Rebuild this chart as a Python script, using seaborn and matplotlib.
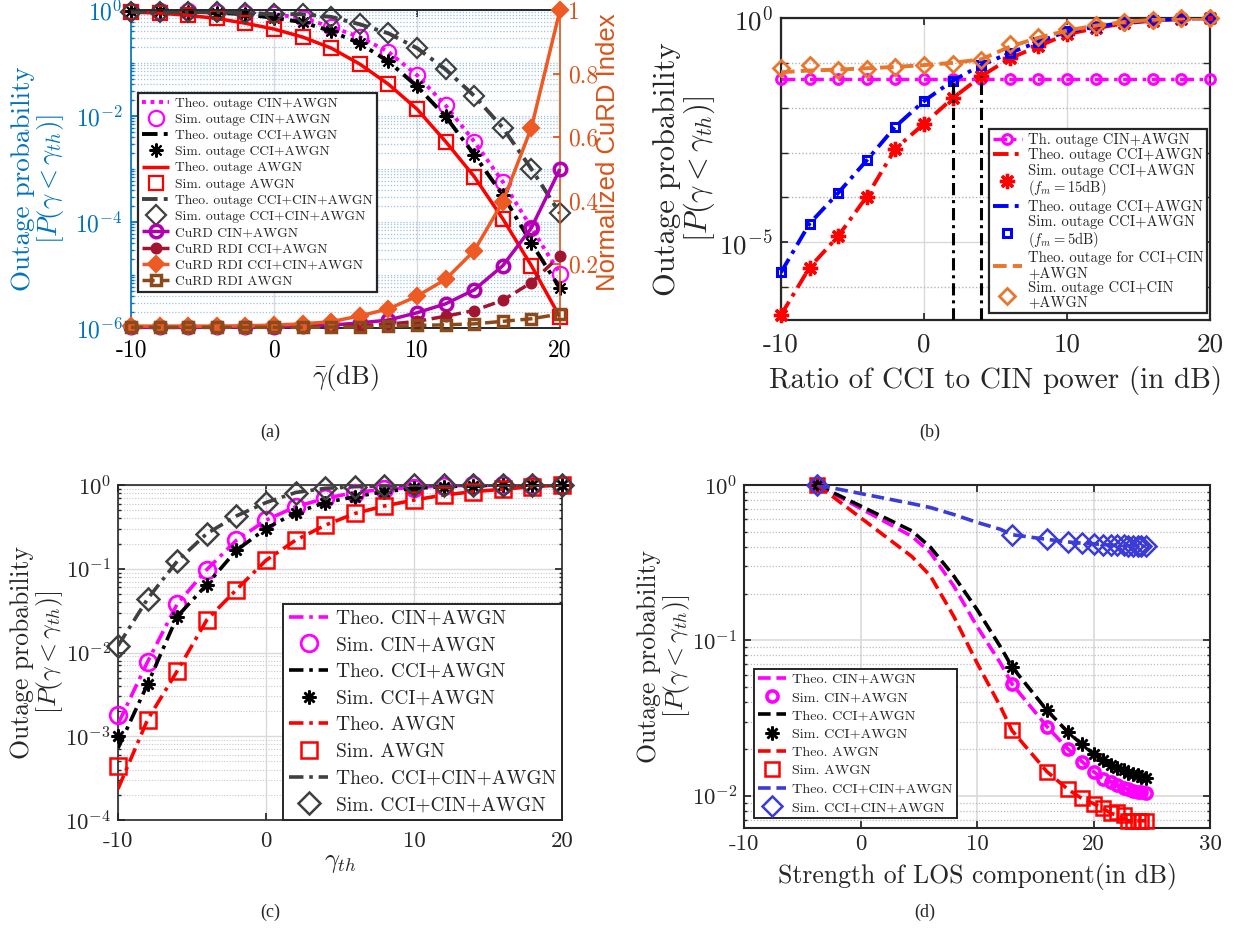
import numpy as np
import matplotlib
matplotlib.use("Agg")
import matplotlib.pyplot as plt
from matplotlib.ticker import FixedLocator, NullFormatter
import seaborn as sns

# ---------------- panel (a): outage vs average SNR + CuRD index ----------------
snr_db = [-10, -8, -6, -4, -2, 0, 2, 4, 6, 8, 10, 12, 14, 16, 18, 20]
out_cin_a = [0.977, 0.977, 0.955, 0.933, 0.891, 0.832, 0.708, 0.479, 0.309, 0.162,
             0.0589, 0.0158, 3.3e-3, 5.75e-4, 7.8e-5, 1.05e-5]
out_cci_a = [0.977, 0.955, 0.933, 0.891, 0.832, 0.708, 0.589, 0.398, 0.234, 0.107,
             0.0363, 9.8e-3, 1.86e-3, 3.2e-4, 4.0e-5, 5.6e-6]
out_awgn_a = [0.912, 0.871, 0.794, 0.692, 0.562, 0.437, 0.309, 0.191, 0.0955, 0.0398,
              0.0135, 3.3e-3, 7.2e-4, 1.15e-4, 1.5e-5, 1.6e-6]
out_ccicin_a = [0.933, 0.933, 0.912, 0.912, 0.871, 0.832, 0.832, 0.741, 0.537, 0.363,
                0.191, 0.0759, 0.024, 6.0e-3, 1.0e-3, 1.45e-4]
curd_cin = [0.002, 0.002, 0.002, 0.003, 0.003, 0.004, 0.006, 0.009, 0.016, 0.025,
            0.048, 0.076, 0.12, 0.196, 0.315, 0.50]
curd_cci = [0.002, 0.002, 0.002, 0.002, 0.003, 0.003, 0.004, 0.005, 0.007, 0.012,
            0.021, 0.037, 0.055, 0.087, 0.143, 0.227]
curd_ccicin = [0.006, 0.006, 0.006, 0.006, 0.007, 0.009, 0.013, 0.02, 0.038, 0.06,
               0.10, 0.153, 0.243, 0.397, 0.63, 1.0]
curd_awgn = [0.002, 0.002, 0.002, 0.002, 0.002, 0.002, 0.002, 0.003, 0.003, 0.005,
             0.008, 0.01, 0.013, 0.021, 0.029, 0.044]

# ---------------- panel (b): outage vs CCI/CIN power ratio ----------------
ratio_db = [-10, -8, -6, -4, -2, 0, 2, 4, 6, 8, 10, 12, 14, 16, 18, 20]
th_cin_b = [0.043] * 16
cci_f15 = [2.4e-7, 2.75e-6, 1.38e-5, 1.05e-4, 1.23e-3, 4.37e-3, 0.0162, 0.0501, 0.126,
           0.234, 0.437, 0.589, 0.759, 0.871, 0.955, 1.0]
cci_f5 = [2.14e-6, 2.63e-5, 1.26e-4, 6.76e-4, 3.8e-3, 0.0141, 0.0398, 0.0891, 0.166,
          0.295, 0.501, 0.631, 0.794, 0.891, 0.955, 1.0]
ccicin_theo_b = [0.0617, 0.0676, 0.0708, 0.0759, 0.0813, 0.0891, 0.1, 0.12, 0.229,
                 0.363, 0.525, 0.676, 0.813, 0.912, 0.977, 1.0]
ccicin_sim_b = [0.0759, 0.0891, 0.0708, 0.0741, 0.0813, 0.0912, 0.0955, 0.117, 0.257,
                0.38, 0.562, 0.692, 0.832, 0.912, 0.977, 1.0]
cross_db = [2, 4]
cross_level = [0.043, 0.05]

# ---------------- panel (c): outage vs threshold ----------------
gamma_th = [-10, -8, -6, -4, -2, 0, 2, 4, 6, 8, 10, 12, 14, 16, 18, 20]
theo_cin_c = [1.4e-3, 7.76e-3, 0.038, 0.0977, 0.219, 0.38, 0.55, 0.692, 0.813, 0.891,
              0.933, 0.977, 0.99, 1.0, 1.0, 1.0]
sim_cin_c = [1.78e-3, 7.76e-3, 0.038, 0.0977, 0.219, 0.38, 0.55, 0.692, 0.813, 0.891,
             0.933, 0.977, 0.99, 1.0, 1.0, 1.0]
theo_cci_c = [7.2e-4, 4.2e-3, 0.0269, 0.0646, 0.166, 0.302, 0.468, 0.617, 0.724, 0.832,
              0.912, 0.955, 0.977, 1.0, 1.0, 1.0]
sim_cci_c = [1.0e-3, 4.2e-3, 0.0269, 0.0646, 0.166, 0.302, 0.468, 0.617, 0.724, 0.832,
             0.912, 0.955, 0.977, 1.0, 1.0, 1.0]
theo_awgn_c = [2.35e-4, 1.58e-3, 6.0e-3, 0.0245, 0.0562, 0.126, 0.219, 0.331, 0.457,
               0.562, 0.661, 0.759, 0.832, 0.891, 0.955, 1.0]
sim_awgn_c = [4.4e-4, 1.58e-3, 6.0e-3, 0.0245, 0.0562, 0.126, 0.219, 0.331, 0.457,
              0.562, 0.661, 0.759, 0.832, 0.891, 0.955, 1.0]
sim_ccicin_c = [0.012, 0.0437, 0.123, 0.263, 0.427, 0.617, 0.813, 0.912, 0.955, 0.977,
                1.0, 1.0, 1.0, 1.0, 1.0, 1.0]

# ---------------- panel (d): outage vs LOS strength ----------------
los_theo_db = [-3.7, 4.4, 6, 8, 10, 12, 13.0, 16.0, 17.8, 19.0, 20.0, 20.8, 21.5, 22.0,
               22.6, 23.0, 23.4, 23.8, 24.1, 24.5]
theo_cin_d = [1.0, 0.468, 0.367, 0.224, 0.123, 0.0716, 0.0525, 0.0279, 0.02, 0.0166,
              0.0143, 0.0129, 0.0123, 0.0117, 0.0112, 0.011, 0.0107, 0.0106, 0.0105, 0.0104]
theo_cci_d = [1.0, 0.507, 0.398, 0.26, 0.158, 0.0912, 0.0676, 0.0355, 0.0257, 0.0214,
              0.0186, 0.017, 0.0158, 0.0151, 0.0146, 0.0141, 0.0138, 0.0135, 0.0132, 0.013]
theo_awgn_d = [1.0, 0.347, 0.26, 0.143, 0.0716, 0.0376, 0.0263, 0.0143, 0.011, 0.0096,
               0.0089, 0.0083, 0.0077, 0.0075, 0.0071, 0.0069, 0.0069, 0.0069, 0.0069, 0.0069]
theo_ccicin_d = [1.0, 0.759, 0.716, 0.646, 0.575, 0.519, 0.479, 0.447, 0.43, 0.422,
                 0.418, 0.414, 0.41, 0.41, 0.408, 0.407, 0.406, 0.405, 0.405, 0.404]
los_sim_db = [-3.7, 13.0, 16.0, 17.8, 19.0, 20.0, 20.8, 21.5, 22.0, 22.6, 23.0, 23.4,
              23.8, 24.1, 24.5]
sim_cin_d = [1.0, 0.0525, 0.0279, 0.02, 0.0166, 0.0143, 0.0129, 0.0123, 0.0117, 0.0112,
             0.011, 0.0107, 0.0106, 0.0105, 0.0104]
sim_cci_d = [1.0, 0.0676, 0.0355, 0.0257, 0.0214, 0.0186, 0.017, 0.0158, 0.0151, 0.0146,
             0.0141, 0.0138, 0.0135, 0.0132, 0.013]
sim_awgn_d = [1.0, 0.0263, 0.0143, 0.011, 0.0096, 0.0089, 0.0083, 0.0077, 0.0079, 0.0075,
              0.0069, 0.0069, 0.0069, 0.0069, 0.0069]
sim_ccicin_d = [1.0, 0.479, 0.447, 0.43, 0.422, 0.418, 0.414, 0.41, 0.41, 0.408, 0.407,
                0.406, 0.405, 0.405, 0.404]

xt_30 = [-10, 0, 10, 20]
xt_30_lbl = ["-10", "0", "10", "20"]
xt_40 = [-10, 0, 10, 20, 30]
xt_40_lbl = ["-10", "0", "10", "20", "30"]

# ---------------- style ----------------
sns.set_theme(style="ticks")
plt.rcParams.update({
    "font.family": "cmr10",
    "mathtext.fontset": "cm",
    "axes.formatter.use_mathtext": True,
    "axes.unicode_minus": False,
    "xtick.direction": "in",
    "ytick.direction": "in",
    "xtick.major.size": 5, "ytick.major.size": 5,
    "xtick.minor.size": 2.5, "ytick.minor.size": 2.5,
    "axes.edgecolor": "#262626",
    "axes.linewidth": 1.2,
    "lines.solid_capstyle": "butt",
})

MAG = "#FF00FF"
BLUE_AX = "#0072BD"
ORANGE_AX = "#D95319"
DASHDOT = (0, (4, 1.6, 1, 1.6))
DASHED = (0, (3.5, 1.6))


def series(ax, x, y, color, ls="-", lw=2.2, marker=None, ms=9, mfc="none", mew=1.6,
           label=None, z=3):
    sns.lineplot(x=x, y=y, ax=ax, color=color, linestyle=ls, linewidth=lw,
                 marker=marker, markersize=ms, markerfacecolor=mfc,
                 markeredgecolor=color, markeredgewidth=mew, label=label,
                 sort=False, legend=False, errorbar=None, zorder=z,
                 clip_on=(marker is None))
    return ax.lines[-1]


def log_axis(ax, lo, hi, major, labels, minor, tick_fs, xpad, ypad):
    ax.set_yscale("log")
    ax.set_ylim(lo, hi)
    ax.yaxis.set_major_locator(FixedLocator(major))
    ax.set_yticklabels(labels)
    ax.yaxis.set_minor_locator(FixedLocator(minor))
    ax.yaxis.set_minor_formatter(NullFormatter())
    ax.tick_params(axis="both", which="both", labelsize=tick_fs, top=True, right=True)
    ax.tick_params(axis="x", which="major", pad=xpad)
    ax.tick_params(axis="y", which="major", pad=ypad)


def sub_decades(lo_exp, hi_exp):
    return [m * 10.0 ** e for e in range(lo_exp, hi_exp) for m in range(2, 10)]


def finish_legend(leg, lw=1.2):
    leg.get_frame().set_linewidth(lw)
    leg.get_frame().set_edgecolor("#262626")
    leg.get_frame().set_boxstyle("square", pad=0)


fig = plt.figure(figsize=(12.56, 9.38), dpi=100)
W, H = 1256.0, 938.0


def box(l, t, r, b):
    return [l / W, 1 - b / H, (r - l) / W, (b - t) / H]


# ================= (a) =================
ax_a = fig.add_axes(box(131, 10, 560, 328))
ax_a2 = ax_a.twinx()
h_a = []
h_a.append(series(ax_a, snr_db, out_cin_a, MAG, ls=(0, (1, 1.2)), lw=2.8,
                  label="Theo. outage CIN+AWGN"))
h_a.append(series(ax_a, snr_db, out_cin_a, MAG, ls="none", marker="o", ms=11,
                  label="Sim. outage CIN+AWGN"))
h_a.append(series(ax_a, snr_db, out_cci_a, "black", ls=DASHDOT, lw=2.8,
                  label="Theo. outage CCI+AWGN"))
h_a.append(series(ax_a, snr_db, out_cci_a, "black", ls="none", marker=(8, 2, 0), ms=10,
                  mew=1.5, label="Sim. outage CCI+AWGN"))
h_a.append(series(ax_a, snr_db, out_awgn_a, "#FF0000", lw=2.5,
                  label="Theo. outage AWGN"))
h_a.append(series(ax_a, snr_db, out_awgn_a, "#FF0000", ls="none", marker="s", ms=10,
                  label="Sim. outage AWGN"))
h_a.append(series(ax_a, snr_db, out_ccicin_a, "#404040", ls=DASHDOT, lw=2.8,
                  label="Theo. outage CCI+CIN+AWGN"))
h_a.append(series(ax_a, snr_db, out_ccicin_a, "#404040", ls="none", marker="D", ms=10,
                  label="Sim. outage CCI+CIN+AWGN"))
h_a.append(series(ax_a2, snr_db, curd_cin, "#B000B0", lw=2.5, marker="o", ms=9, mew=2.5,
                  label="CuRD CIN+AWGN"))
h_a.append(series(ax_a2, snr_db, curd_cci, "#A2142F", ls=DASHED, lw=2.5, marker="o", ms=7,
                  mfc="#A2142F", label="CuRD RDI CCI+AWGN"))
h_a.append(series(ax_a2, snr_db, curd_ccicin, "#EE5A24", lw=2.5, marker="D", ms=8,
                  mfc="#EE5A24", label="CuRD RDI CCI+CIN+AWGN"))
h_a.append(series(ax_a2, snr_db, curd_awgn, "#8A4A1C", ls=DASHED, lw=2.5, marker="s", ms=7,
                  mew=2.5, label="CuRD RDI AWGN"))
for ln in h_a[8:]:
    ln.set_clip_on(False)

ax_a.set_xlim(-10, 20)
ax_a.set_xticks(xt_30)
ax_a.set_xticklabels(xt_30_lbl)
log_axis(ax_a, 1e-6, 1.0, [1e-6, 1e-4, 1e-2, 1.0],
         [r"$10^{-6}$", r"$10^{-4}$", r"$10^{-2}$", r"$10^{0}$"],
         sub_decades(-6, 0) + [1e-5, 1e-3, 1e-1], 17, 8, 6)
ax_a.tick_params(axis="y", which="both", colors=BLUE_AX, right=False)
ax_a.tick_params(axis="x", colors="#262626", labelcolor="black")
ax_a.grid(True, which="major", axis="x", color="#DADADA", lw=1.0)
ax_a.grid(True, which="both", axis="y", color="#9DC3E6", lw=0.9, ls=(0, (1, 1.5)))
ax_a.spines["left"].set_color(BLUE_AX)
ax_a.spines["right"].set_visible(False)
ax_a2.spines["left"].set_visible(False)
ax_a2.spines["right"].set_color(ORANGE_AX)
ax_a2.set_ylim(0, 1)
ax_a2.set_yticks([0.2, 0.4, 0.6, 0.8, 1.0])
ax_a2.set_yticklabels(["0.2", "0.4", "0.6", "0.8", "1"])
ax_a2.tick_params(axis="y", colors=ORANGE_AX, labelsize=17, direction="in", pad=6)
ax_a.set_xlabel(r"$\bar{\gamma}$(dB)", fontsize=19, va="center")
ax_a.xaxis.set_label_coords(0.5, -0.157)
ax_a.set_ylabel("Outage probability\n" + r"$[P(\gamma < \gamma_{th})]$", fontsize=19.5,
                color=BLUE_AX, va="center", linespacing=1.0)
ax_a.yaxis.set_label_coords(-0.215, 0.47)
ax_a2.set_ylabel("Normalized CuRD Index", fontsize=18.5, color=ORANGE_AX,
                 family="Liberation Sans", rotation=90, va="center")
ax_a2.yaxis.set_label_coords(1.112, 0.553)
leg = ax_a2.legend(handles=h_a, loc="upper left", bbox_to_anchor=(0.016, 0.739),
                   fontsize=9.8, frameon=True, fancybox=False, framealpha=1,
                   borderpad=0.3, labelspacing=0.27, handlelength=2.0,
                   handletextpad=0.4, borderaxespad=0)
finish_legend(leg, 1.6)

# ================= (b) =================
ax_b = fig.add_axes(box(781, 18, 1210, 320))
h_b = []
h_b.append(series(ax_b, ratio_db, th_cin_b, MAG, ls=DASHDOT, lw=2.5, marker="o", ms=7,
                  mew=2.2, label="Th. outage CIN+AWGN"))
h_b.append(series(ax_b, ratio_db, cci_f15, "#FF0000", ls=DASHDOT, lw=2.8,
                  label="Theo. outage CCI+AWGN"))
h_b.append(series(ax_b, ratio_db, cci_f15, "#FF0000", ls="none", marker=(8, 2, 0), ms=11,
                  mew=2.4, label="Sim. outage CCI+AWGN\n" + r"($f_m = 15$dB)"))
h_b.append(series(ax_b, ratio_db, cci_f5, "#0000FF", ls=DASHDOT, lw=2.8,
                  label="Theo. outage CCI+AWGN"))
h_b.append(series(ax_b, ratio_db, cci_f5, "#0000FF", ls="none", marker="s", ms=6,
                  mew=2.2, label="Sim. outage CCI+AWGN\n" + r"($f_m = 5$dB)"))
h_b.append(series(ax_b, ratio_db, ccicin_theo_b, "#E8762C", ls=DASHED, lw=2.8,
                  label="Theo. outage for CCI+CIN\n+AWGN"))
h_b.append(series(ax_b, ratio_db, ccicin_sim_b, "#E8762C", ls="none", marker="D", ms=8,
                  mew=2.0, label="Sim. outage CCI+CIN\n+AWGN"))
ax_b.vlines(cross_db, 1.86e-7, cross_level, colors="black", linestyles=DASHDOT, lw=2.2,
            zorder=4)
ax_b.set_xlim(-10, 20)
ax_b.set_xticks(xt_30)
ax_b.set_xticklabels(xt_30_lbl)
log_axis(ax_b, 1.86e-7, 1.0, [1e-5, 1.0], [r"$10^{-5}$", r"$10^{0}$"],
         [1e-6, 1e-4, 1e-3, 1e-2, 1e-1], 19.5, 9, 6)
ax_b.tick_params(axis="y", which="minor", length=5)
ax_b.grid(True, which="major", color="#DADADA", lw=1.0)
ax_b.grid(True, which="minor", axis="y", color="#B4B4B4", lw=1.0, ls=(0, (1, 1.5)))
for sp in ax_b.spines.values():
    sp.set_linewidth(1.6)
ax_b.set_xlabel("Ratio of CCI to CIN power (in dB)", fontsize=21, va="center")
ax_b.xaxis.set_label_coords(0.5, -0.199)
ax_b.set_ylabel("Outage probability\n" + r"$[P(\gamma < \gamma_{th})]$", fontsize=22,
                va="center", linespacing=1.0)
ax_b.yaxis.set_label_coords(-0.224, 0.5)
leg = ax_b.legend(handles=h_b, loc="lower right", bbox_to_anchor=(0.993, 0.023),
                  fontsize=10.5, frameon=True, fancybox=False, framealpha=1,
                  borderpad=0.25, labelspacing=0.1, handlelength=2.0,
                  handletextpad=0.4, borderaxespad=0)
for t in leg.get_texts():
    t.set_linespacing(1.05)
finish_legend(leg, 1.6)

# ================= (c) =================
ax_c = fig.add_axes(box(118, 485, 562, 820))
h_c = []
h_c.append(series(ax_c, gamma_th, theo_cin_c, MAG, ls=DASHDOT, lw=2.6, label="Theo. CIN+AWGN"))
h_c.append(series(ax_c, gamma_th, sim_cin_c, MAG, ls="none", marker="o", ms=12, mew=2.0,
                  label="Sim. CIN+AWGN"))
h_c.append(series(ax_c, gamma_th, theo_cci_c, "black", ls=DASHDOT, lw=2.6,
                  label="Theo. CCI+AWGN"))
h_c.append(series(ax_c, gamma_th, sim_cci_c, "black", ls="none", marker=(8, 2, 0), ms=10,
                  mew=1.8, label="Sim. CCI+AWGN"))
h_c.append(series(ax_c, gamma_th, theo_awgn_c, "#FF0000", ls=DASHDOT, lw=2.6,
                  label="Theo. AWGN"))
h_c.append(series(ax_c, gamma_th, sim_awgn_c, "#FF0000", ls="none", marker="s", ms=11,
                  mew=1.8, label="Sim. AWGN"))
h_c.append(series(ax_c, gamma_th, sim_ccicin_c, "#404040", ls=DASHDOT, lw=2.6,
                  label="Theo. CCI+CIN+AWGN"))
h_c.append(series(ax_c, gamma_th, sim_ccicin_c, "#404040", ls="none", marker="D", ms=11,
                  mew=1.8, label="Sim. CCI+CIN+AWGN"))
ax_c.set_xlim(-10, 20)
ax_c.set_xticks(xt_30)
ax_c.set_xticklabels(xt_30_lbl)
log_axis(ax_c, 1e-4, 1.0, [1e-4, 1e-3, 1e-2, 1e-1, 1.0],
         [r"$10^{-4}$", r"$10^{-3}$", r"$10^{-2}$", r"$10^{-1}$", r"$10^{0}$"],
         sub_decades(-4, 0), 16.5, 8, 5)
ax_c.grid(True, which="major", color="#DADADA", lw=1.0)
ax_c.grid(True, which="minor", axis="y", color="#C8C8C8", lw=0.8, ls=(0, (1, 1.5)))
ax_c.set_xlabel(r"$\gamma_{th}$", fontsize=19, va="center")
ax_c.xaxis.set_label_coords(0.5, -0.128)
ax_c.set_ylabel("Outage probability\n" + r"$[P(\gamma < \gamma_{th})]$", fontsize=18.5,
                va="center", linespacing=1.0)
ax_c.yaxis.set_label_coords(-0.18, 0.5)
leg = ax_c.legend(handles=h_c, loc="lower right", bbox_to_anchor=(1.0, 0.0),
                  fontsize=14, frameon=True, fancybox=False, framealpha=1,
                  borderpad=0.3, labelspacing=0.45, handlelength=2.0,
                  handletextpad=0.4, borderaxespad=0)
finish_legend(leg, 1.4)

# ================= (d) =================
ax_d = fig.add_axes(box(744, 485, 1210, 828))
BLUE_D = "#3B3BD6"
h_d = []
h_d.append(series(ax_d, los_theo_db, theo_cin_d, MAG, ls=DASHED, lw=2.6,
                  label="Theo. CIN+AWGN"))
h_d.append(series(ax_d, los_sim_db, sim_cin_d, MAG, ls="none", marker="o", ms=8, mew=2.6,
                  label="Sim. CIN+AWGN"))
h_d.append(series(ax_d, los_theo_db, theo_cci_d, "black", ls=DASHED, lw=2.6,
                  label="Theo. CCI+AWGN"))
h_d.append(series(ax_d, los_sim_db, sim_cci_d, "black", ls="none", marker=(8, 2, 0), ms=10,
                  mew=1.8, label="Sim. CCI+AWGN"))
h_d.append(series(ax_d, los_theo_db, theo_awgn_d, "#FF0000", ls=DASHED, lw=2.6,
                  label="Theo. AWGN"))
h_d.append(series(ax_d, los_sim_db, sim_awgn_d, "#FF0000", ls="none", marker="s", ms=10,
                  mew=1.8, label="Sim. AWGN"))
h_d.append(series(ax_d, los_theo_db, theo_ccicin_d, BLUE_D, ls=DASHED, lw=2.6,
                  label="Theo. CCI+CIN+AWGN"))
h_d.append(series(ax_d, los_sim_db, sim_ccicin_d, BLUE_D, ls="none", marker="D", ms=10,
                  mew=1.8, label="Sim. CCI+CIN+AWGN"))
ax_d.set_xlim(-10, 30)
ax_d.set_xticks(xt_40)
ax_d.set_xticklabels(xt_40_lbl)
log_axis(ax_d, 0.0062, 1.0, [1e-2, 1e-1, 1.0],
         [r"$10^{-2}$", r"$10^{-1}$", r"$10^{0}$"],
         sub_decades(-3, 0), 16.5, 5, 5)
ax_d.grid(True, which="major", color="#DADADA", lw=1.2)
ax_d.grid(True, which="minor", axis="y", color="#BEBEBE", lw=0.9, ls=(0, (1, 1.5)))
for sp in ax_d.spines.values():
    sp.set_linewidth(1.5)
ax_d.set_xlabel("Strength of LOS component(in dB)", fontsize=18.5, va="center")
ax_d.xaxis.set_label_coords(0.5, -0.14)
ax_d.set_ylabel("Outage probability\n" + r"$[P(\gamma < \gamma_{th})]$", fontsize=18.5,
                va="center", linespacing=1.0)
ax_d.yaxis.set_label_coords(-0.17, 0.5)
leg = ax_d.legend(handles=h_d, loc="lower left", bbox_to_anchor=(0.021, 0.029),
                  fontsize=10.2, frameon=True, fancybox=False, framealpha=1,
                  borderpad=0.3, labelspacing=0.38, handlelength=2.0,
                  handletextpad=0.4, borderaxespad=0)
finish_legend(leg, 1.4)

# ---------------- captions ----------------
for cx, cy, txt in [(270, 432, "(a)"), (930, 432, "(b)"), (270, 912, "(c)"), (925, 912, "(d)")]:
    fig.text(cx / W, 1 - cy / H, txt, ha="center", va="center",
             family="Liberation Serif", fontsize=13)

fig.savefig("out.png", dpi=100)
